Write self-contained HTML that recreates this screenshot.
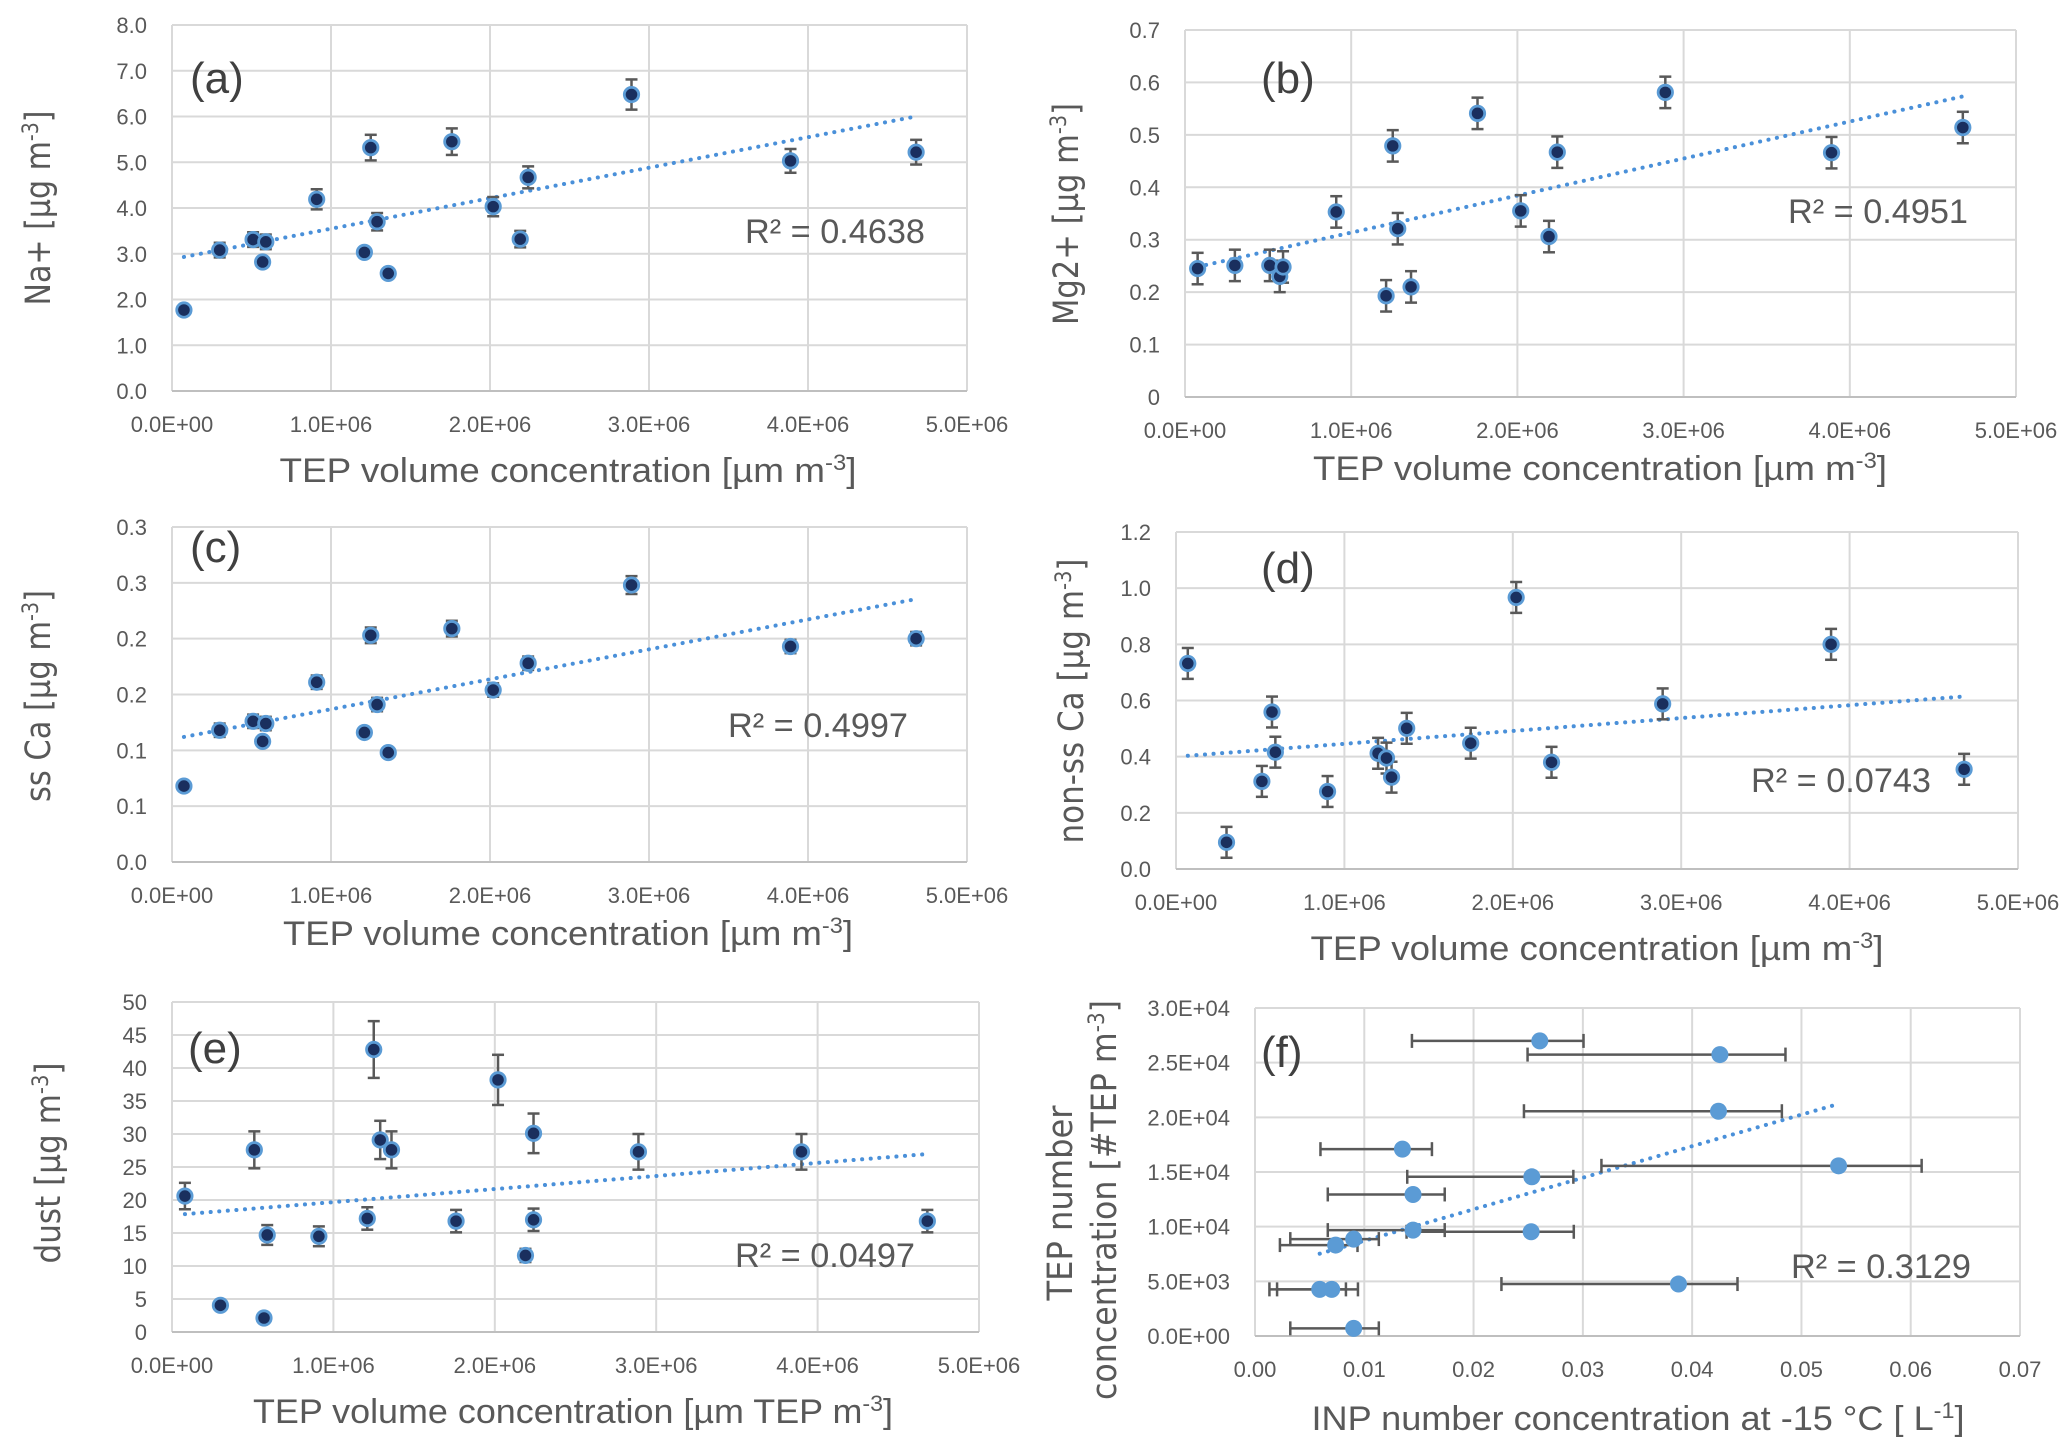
<!DOCTYPE html>
<html><head><meta charset="utf-8">
<style>
html,body{margin:0;padding:0;background:#fff;}
svg{display:block;}
text{font-family:"Liberation Sans",sans-serif;fill:#595959;}
.yt{font-family:"DejaVu Sans","Liberation Sans",sans-serif;}
</style></head>
<body>
<svg id="fig" width="2067" height="1455" viewBox="0 0 2067 1455" xmlns="http://www.w3.org/2000/svg">
<rect width="2067" height="1455" fill="#fff"/>
</svg>
<script>
// ---- Panel (a) Na+ ----
const aX = [0.075,0.30,0.51,0.57,0.59,0.91,1.21,1.25,1.29,1.36,1.76,2.02,2.19,2.24,2.89,3.89,4.68];
const aY = [1.77,3.08,3.31,2.82,3.26,4.19,3.03,5.32,3.70,2.57,5.45,4.03,3.32,4.67,6.48,5.03,5.22];
const aErr = [0.05,0.16,0.16,0.1,0.16,0.22,0.1,0.28,0.19,0.1,0.29,0.21,0.18,0.24,0.33,0.26,0.27];
const aTrend = [2.88,0.667];
const aTickVals = [0,1,2,3,4,5,6,7,8];
const aTickLabels = ["0.0","1.0","2.0","3.0","4.0","5.0","6.0","7.0","8.0"];
// ---- Panel (b) Mg2+ ----
const bX = [0.076,0.30,0.51,0.57,0.59,0.91,1.21,1.25,1.28,1.36,1.76,2.02,2.19,2.24,2.89,3.89,4.68];
const bY = [0.245,0.251,0.251,0.230,0.248,0.353,0.193,0.479,0.321,0.210,0.541,0.355,0.306,0.467,0.581,0.466,0.514];
const bErr = [0.03,0.03,0.03,0.03,0.03,0.03,0.03,0.03,0.03,0.03,0.03,0.03,0.03,0.03,0.03,0.03,0.03];
const bTrend = [0.243,0.0706];
const bTickVals = [0,0.1,0.2,0.3,0.4,0.5,0.6,0.7];
const bTickLabels = ["0","0.1","0.2","0.3","0.4","0.5","0.6","0.7"];
// ---- Panel (c) ss Ca ----
const cX = [0.075,0.30,0.51,0.57,0.59,0.91,1.21,1.25,1.29,1.36,1.76,2.02,2.24,2.89,3.89,4.68];
const cY = [0.068,0.118,0.126,0.108,0.124,0.161,0.116,0.203,0.141,0.098,0.209,0.154,0.178,0.248,0.193,0.200];
const cErr = [0.002,0.006,0.006,0.004,0.006,0.006,0.004,0.007,0.006,0.003,0.007,0.006,0.006,0.008,0.006,0.006];
const cTrend = [0.110,0.0268];
const cTickVals = [0,0.05,0.1,0.15,0.2,0.25,0.3];
const cTickLabels = ["0.0","0.1","0.1","0.2","0.2","0.3","0.3"];
// ---- Panel (d) non-ss Ca ----
const dX = [0.07,0.30,0.51,0.57,0.59,0.90,1.20,1.25,1.28,1.37,1.75,2.02,2.23,2.89,3.89,4.68];
const dY = [0.732,0.095,0.312,0.559,0.416,0.276,0.412,0.395,0.327,0.501,0.448,0.967,0.380,0.588,0.800,0.355];
const dErr = [0.055,0.055,0.055,0.055,0.055,0.055,0.055,0.055,0.055,0.055,0.055,0.055,0.055,0.055,0.055,0.055];
const dTrend = [0.400,0.0458];
const dTickVals = [0,0.2,0.4,0.6,0.8,1.0,1.2];
const dTickLabels = ["0.0","0.2","0.4","0.6","0.8","1.0","1.2"];
// ---- Panel (e) dust ----
const eX = [0.08,0.30,0.51,0.57,0.59,0.91,1.21,1.25,1.29,1.36,1.76,2.02,2.19,2.24,2.24,2.89,3.90,4.68];
const eY = [20.6,4.04,27.6,2.12,14.7,14.5,17.2,42.8,29.1,27.6,16.8,38.2,11.6,17.0,30.1,27.3,27.3,16.8];
const eErr = [2.0,0,2.8,0,1.5,1.5,1.7,4.3,2.9,2.8,1.7,3.8,1.0,1.7,3.0,2.7,2.7,1.7];
const eTrend = [17.7,1.98];
const eTickVals = [0,5,10,15,20,25,30,35,40,45,50];
const eTickLabels = ["0","5","10","15","20","25","30","35","40","45","50"];
// ---- Panel (f) TEP number vs INP ----
const fX = [0.02606,0.04254,0.04241,0.01349,0.0534,0.02533,0.01446,0.01446,0.02527,0.00903,0.00738,0.00592,0.00702,0.03875,0.00903];
const fY = [26990,25740,20560,17090,15565,14560,12945,9686,9534,8864,8316,4264,4264,4752,700];
const fXErrLo = [0.0117,0.0176,0.0178,0.0075,0.0217,0.0114,0.0078,0.0078,0.0114,0.0058,0.0051,0.0046,0.0050,0.0162,0.0058];
const fXErrHi = [0.0040,0.0060,0.0058,0.0027,0.0076,0.0038,0.0029,0.0029,0.0039,0.0023,0.0020,0.0024,0.0024,0.0054,0.0023];
const fTrend = [5820,288500];
const fTickVals = [0,5000,10000,15000,20000,25000,30000];
const fTickLabels = ["0.0E+00","5.0E+03","1.0E+04","1.5E+04","2.0E+04","2.5E+04","3.0E+04"];
const fXTickVals = [0,0.01,0.02,0.03,0.04,0.05,0.06,0.07];
const fXTickLabels = ["0.00","0.01","0.02","0.03","0.04","0.05","0.06","0.07"];
// shared x ticks (TEP volume, in 1e6)
const tepXTickVals = [0,1,2,3,4,5];
const tepXTickLabels = ["0.0E+00","1.0E+06","2.0E+06","3.0E+06","4.0E+06","5.0E+06"];

const NS = "http://www.w3.org/2000/svg";
const svg = document.getElementById("fig");
function mk(tag, attrs, parent){
  const e = document.createElementNS(NS, tag);
  for (const k in attrs) e.setAttribute(k, attrs[k]);
  (parent||svg).appendChild(e);
  return e;
}

function panel(cfg){
  const g = mk("g", {});
  
  
  const L=cfg.L,R=cfg.R,T=cfg.T,B=cfg.B;
  const sx = v => L + (v - cfg.xMin)/(cfg.xMax - cfg.xMin)*(R-L);
  const sy = v => B - (v - cfg.yMin)/(cfg.yMax - cfg.yMin)*(B-T);
  cfg.xTicks.forEach((v,i)=>{
    const ln = mk("line",{x1:sx(v),x2:sx(v),y1:T,y2:B,stroke:"#d9d9d9","stroke-width":2},g);
    
    
    const t = mk("text",{x:sx(v),y:B+41,"font-size":22,"text-anchor":"middle"},g);
    t.textContent = cfg.xLabels[i];
    
    
  });
  cfg.yTicks.forEach((v,i)=>{
    const ln = mk("line",{x1:L,x2:R,y1:sy(v),y2:sy(v),stroke:"#d9d9d9","stroke-width":2},g);
    
    
    const t = mk("text",{x:L-25,y:sy(v)+8,"font-size":22,"text-anchor":"end"},g);
    t.textContent = cfg.yLabels[i];
    
    
  });
  const ax = mk("line",{x1:L,x2:R,y1:B,y2:B,stroke:"#bfbfbf","stroke-width":2},g);
  
  
  const xs = cfg.x;
  const x0 = Math.min(...xs), x1 = Math.max(...xs);
  const tr = mk("line",{x1:sx(x0),y1:sy(cfg.trend[0]+cfg.trend[1]*x0),x2:sx(x1),y2:sy(cfg.trend[0]+cfg.trend[1]*x1),
    stroke:"#4a90d9","stroke-width":4,"stroke-dasharray":"0.1 8.5","stroke-linecap":"round"},g);
  
  
  xs.forEach((xv,i)=>{
    const px = sx(xv), py = sy(cfg.y[i]);
    if (cfg.err){
      const e = cfg.err[i];
      if (e>0){
        const eg = mk("g",{stroke:"#595959","stroke-width":2.5},g);
        
        
        mk("line",{x1:px,x2:px,y1:sy(cfg.y[i]+e),y2:sy(cfg.y[i]-e)},eg);
        mk("line",{x1:px-6,x2:px+6,y1:sy(cfg.y[i]+e),y2:sy(cfg.y[i]+e)},eg);
        mk("line",{x1:px-6,x2:px+6,y1:sy(cfg.y[i]-e),y2:sy(cfg.y[i]-e)},eg);
      }
    }
    if (cfg.xErrLo){
      const lo = sx(xv-cfg.xErrLo[i]), hi = sx(xv+cfg.xErrHi[i]);
      const eg = mk("g",{stroke:"#595959","stroke-width":2.5},g);
      
      
      mk("line",{x1:lo,x2:hi,y1:py,y2:py},eg);
      mk("line",{x1:lo,x2:lo,y1:py-7,y2:py+7},eg);
      mk("line",{x1:hi,x2:hi,y1:py-7,y2:py+7},eg);
    }
  });
  xs.forEach((xv,i)=>{
    const c = cfg.light
      ? mk("circle",{cx:sx(xv),cy:sy(cfg.y[i]),r:8.5,fill:"#5b9bd5"},g)
      : mk("circle",{cx:sx(xv),cy:sy(cfg.y[i]),r:7.2,fill:"#1a2f5e",stroke:"#5b9bd5","stroke-width":2.8},g);
    
    
  });
  const pl = mk("text",{x:cfg.lab[0],y:cfg.lab[1],"font-size":44,style:"fill:#404040"},g);
  pl.textContent = cfg.letter;
  
  
  const r2 = mk("text",{x:cfg.r2[0],y:cfg.r2[1],"font-size":34,textLength:180,lengthAdjust:"spacingAndGlyphs"},g);
  r2.textContent = cfg.r2t;
  
  
  const xt = mk("text",{x:cfg.xt[0]-cfg.xt[2]/2,y:cfg.xt[1],"font-size":34,textLength:cfg.xt[2],lengthAdjust:"spacingAndGlyphs"},g);
  xt.innerHTML = cfg.xtitle;
  
  
  cfg.yt.forEach(yt=>{
    const t = mk("text",{class:"yt",x:0,y:0,"font-size":35,"text-anchor":"middle",textLength:yt[3],lengthAdjust:"spacingAndGlyphs",
      transform:`translate(${yt[0]},${yt[1]}) rotate(-90)`},g);
    t.innerHTML = yt[2];
    
    
  });
}
const sup = s => `<tspan dy="-12" font-size="22">${s}</tspan><tspan dy="12">]</tspan>`;
const tepTitle = "TEP volume concentration [µm m" + sup("-3");

panel({name:"panel-a-na",L:172,R:967,T:25,B:391,xMin:0,xMax:5,yMin:0,yMax:8,
  xTicks:tepXTickVals,xLabels:tepXTickLabels,yTicks:aTickVals,yLabels:aTickLabels,
  x:aX,y:aY,err:aErr,trend:aTrend,letter:"(a)",lab:[190,93],r2:[745,243],r2t:"R² = 0.4638",
  xt:[568,482,577],xtitle:tepTitle,yt:[[50,208,"Na+ [µg m"+sup("-3"),195]]});
panel({name:"panel-b-mg",L:1185,R:2016,T:30,B:397,xMin:0,xMax:5,yMin:0,yMax:0.7,
  xTicks:tepXTickVals,xLabels:tepXTickLabels,yTicks:bTickVals,yLabels:bTickLabels,
  x:bX,y:bY,err:bErr,trend:bTrend,letter:"(b)",lab:[1261,93],r2:[1788,223],r2t:"R² = 0.4951",
  xt:[1600,480,574],xtitle:tepTitle,yt:[[1078,214,"Mg2+ [µg m"+sup("-3"),222]]});
panel({name:"panel-c-ssca",L:172,R:967,T:527,B:862,xMin:0,xMax:5,yMin:0,yMax:0.3,
  xTicks:tepXTickVals,xLabels:tepXTickLabels,yTicks:cTickVals,yLabels:cTickLabels,
  x:cX,y:cY,err:cErr,trend:cTrend,letter:"(c)",lab:[190,562],r2:[728,737],r2t:"R² = 0.4997",
  xt:[568,945,570],xtitle:tepTitle,yt:[[50,696,"ss Ca [µg m"+sup("-3"),212]]});
panel({name:"panel-d-nonssca",L:1176,R:2018,T:532,B:869,xMin:0,xMax:5,yMin:0,yMax:1.2,
  xTicks:tepXTickVals,xLabels:tepXTickLabels,yTicks:dTickVals,yLabels:dTickLabels,
  x:dX,y:dY,err:dErr,trend:dTrend,letter:"(d)",lab:[1261,583],r2:[1751,792],r2t:"R² = 0.0743",
  xt:[1597,960,573],xtitle:tepTitle,yt:[[1083,701,"non-ss Ca [µg m"+sup("-3"),285]]});
panel({name:"panel-e-dust",L:172,R:979,T:1002,B:1332,xMin:0,xMax:5,yMin:0,yMax:50,
  xTicks:tepXTickVals,xLabels:tepXTickLabels,yTicks:eTickVals,yLabels:eTickLabels,
  x:eX,y:eY,err:eErr,trend:eTrend,letter:"(e)",lab:[188,1063],r2:[735,1267],r2t:"R² = 0.0497",
  xt:[573,1423,640],xtitle:"TEP volume concentration [µm TEP m"+sup("-3"),yt:[[60,1163,"dust [µg m"+sup("-3"),201]]});
panel({name:"panel-f-inp",L:1255,R:2020,T:1008,B:1336,xMin:0,xMax:0.07,yMin:0,yMax:30000,
  xTicks:fXTickVals,xLabels:fXTickLabels,yTicks:fTickVals,yLabels:fTickLabels,
  x:fX,y:fY,xErrLo:fXErrLo,xErrHi:fXErrHi,light:true,trend:fTrend,letter:"(f)",lab:[1261,1067],r2:[1791,1278],r2t:"R² = 0.3129",
  xt:[1638,1430,653],xtitle:"INP number concentration at -15 °C [ L"+sup("-1"),
  yt:[[1072,1203,"TEP number",195],[1116,1200,"concentration [#TEP m"+sup("-3"),400]]});
</script>
</body></html>
